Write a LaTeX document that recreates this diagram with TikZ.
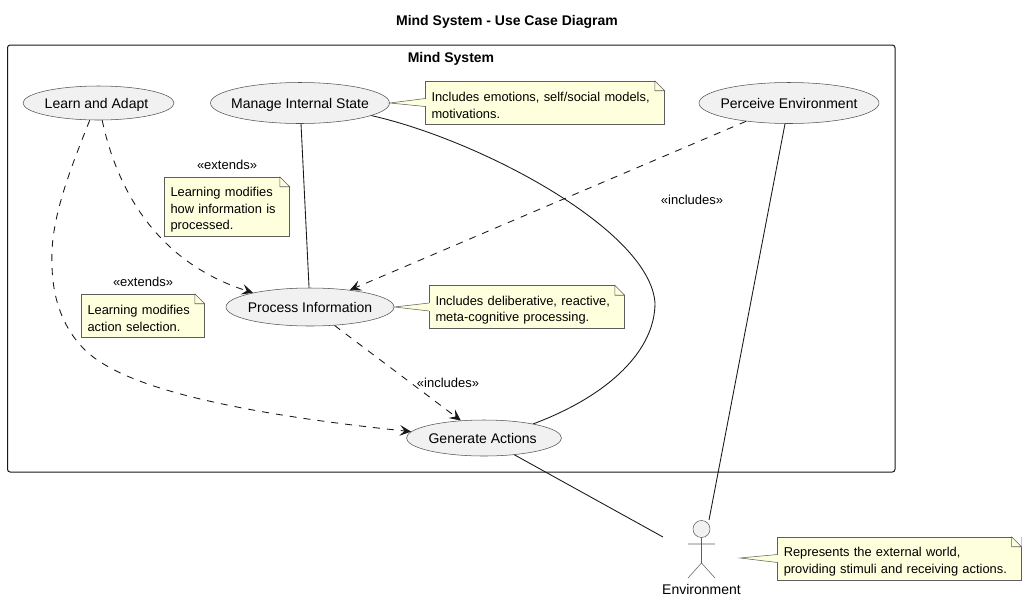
\documentclass[tikz,border=0pt]{standalone}
\usepackage{fontspec}
\setmainfont{Liberation Sans}
\usepackage{xcolor}
\usetikzlibrary{shapes.geometric,arrows.meta,positioning,calc}
\definecolor{inkdark}{HTML}{181818}
\definecolor{casefill}{HTML}{F1F1F1}
\definecolor{notefill}{HTML}{FEFFDD}
\def\px{0.75pt}
\tikzset{
    usecase/.style 2 args={ellipse, draw=inkdark!75, line width=0.4pt, fill=casefill, inner sep=0pt, text height=9pt, text depth=1.5pt, minimum width=#1*\px, minimum height=#2*\px, font=\fontsize{10.5pt}{12pt}\selectfont},
    notebox/.style 2 args={rectangle, draw=inkdark!70, line width=0.4pt, fill=notefill, inner sep=0pt, align=left, text width=(#1-12)*\px, minimum width=#1*\px, minimum height=#2*\px, font=\fontsize{9.65pt}{12.4pt}\selectfont, execute at begin node=\rule{0pt}{11.5pt}},
    linktext/.style={font=\fontsize{9.75pt}{12pt}\selectfont},
    link/.style={inkdark, line width=0.65pt},
    extlink/.style={inkdark, line width=0.65pt, dash pattern=on 5.25pt off 5.25pt, -{Stealth[length=8.5pt, width=8pt, inset=3.5pt]}},
}
% text of a use case, kept from widening its ellipse
\newcommand{\casetext}[1]{\makebox[0pt]{#1}}
% folded corner of a note, and its wedge towards a target
\newcommand{\notefold}[1]{
    \fill[white] ($(#1.north east)+(-10,0)$) -- (#1.north east) -- ($(#1.north east)+(0,10)$) -- cycle;
    \draw[inkdark!70, line width=0.4pt, line join=round] ($(#1.north east)+(-10,0)$) -- ($(#1.north east)+(-10,10)$) -- ($(#1.north east)+(0,10)$) -- cycle;
}
\newcommand{\notewedge}[2]{
    \filldraw[draw=inkdark!70, fill=notefill, line width=0.4pt] ($(#1.west)+(0,-4)$) -- (#2) -- ($(#1.west)+(0,4)$);
    \fill[notefill] ($(#1.west)+(-0.5,-3.6)$) rectangle ($(#1.west)+(0.6,3.6)$);
}
\begin{document}
\begin{tikzpicture}[x=0.75pt, y=-0.75pt]
    \useasboundingbox (0,0) rectangle (1026,601);

    % Title and system frame
    \node[font=\fontsize{10.5pt}{12pt}\selectfont\bfseries] (title) at (507,21.5) {Mind System - Use Case Diagram};
    \draw[inkdark, line width=0.75pt, rounded corners=2pt] (7.5,45) rectangle (895,472);
    \node[font=\fontsize{10.5pt}{12pt}\selectfont\bfseries] (systemname) at (451,58.5) {Mind System};

    % Use cases
    \node[usecase={151}{34}] (learn) at (98.5,103) {\casetext{\hspace{-3pt}Learn and Adapt}};
    \node[usecase={179}{41}] (manage) at (300,103) {\casetext{Manage Internal State}};
    \node[usecase={180}{41}] (perceive) at (789,103) {\casetext{Perceive Environment}};
    \node[usecase={168}{38}] (process) at (310,307) {\casetext{Process Information}};
    \node[usecase={155}{36}] (generate) at (484,438) {\casetext{\hspace{-2pt}Generate Actions}};

    % Actor
    \node[circle, draw=inkdark!70, line width=0.4pt, fill=casefill, minimum size=17*\px, inner sep=0pt] (envhead) at (701.5,529) {};
    \coordinate (envhip) at (701.5,563);
    \coordinate (envarml) at (688,544);
    \coordinate (envarmr) at (715,544);
    \coordinate (envlegl) at (688,578);
    \coordinate (envlegr) at (715,578);
    \draw[inkdark!70, line width=0.4pt] (envhead) -- (envhip) (envarml) -- (envarmr) (envlegl) -- (envhip) -- (envlegr);
    \node[font=\fontsize{10.5pt}{12pt}\selectfont] (envname) at (701.5,589) {Environment};
    \coordinate (envtop) at (709,520);
    \coordinate (envleft) at (663,537);
    \coordinate (envright) at (740,558);

    % Solid associations
    \draw[link] (manage) -- (process);
    \draw[link] (perceive) -- (envtop);
    \draw[link] (generate) -- (envleft);
    \draw[link] (manage.-10) .. controls (480,140) and (650,230) .. (655,303) .. controls (655,350) and (610,395) .. (generate.16);

    % Dashed relations
    \draw[extlink] (perceive) -- (process);
    \draw[extlink] (process) -- (generate);
    \draw[extlink] (learn.-78) .. controls (115,180) and (150,260) .. (process.166);
    \draw[extlink] (learn.-117) .. controls (70,170) and (50,220) .. (52,263) .. controls (52,310) and (72,345) .. (102,363) .. controls (160,400) and (300,420) .. (generate.175);

    % Relation labels
    \node[linktext] (extendsa) at (227,165) {«extends»};
    \node[linktext] (extendsb) at (143,282) {«extends»};
    \node[linktext] (includesa) at (692,200) {«includes»};
    \node[linktext] (includesb) at (448,383) {«includes»};

    % Notes
    \node[notebox={239}{43}] (noteemotions) at (545,102.5) {Includes emotions, self/social models,\\motivations.};
    \notefold{noteemotions}
    \notewedge{noteemotions}{manage.east}
    \node[notebox={125}{59.5}] (notelearninfo) at (227,206.75) {Learning modifies\\how information is\\processed.};
    \notefold{notelearninfo}
    \node[notebox={123}{43}] (notelearnaction) at (143,315.5) {Learning modifies\\action selection.};
    \notefold{notelearnaction}
    \node[notebox={195}{43}] (noteprocess) at (527,307) {Includes deliberative, reactive,\\meta-cognitive processing.};
    \notefold{noteprocess}
    \notewedge{noteprocess}{process.east}
    \node[notebox={243.5}{43}] (noteenv) at (899.5,558.5) {Represents the external world,\\providing stimuli and receiving actions.};
    \notefold{noteenv}
    \notewedge{noteenv}{envright}
\end{tikzpicture}
\end{document}
